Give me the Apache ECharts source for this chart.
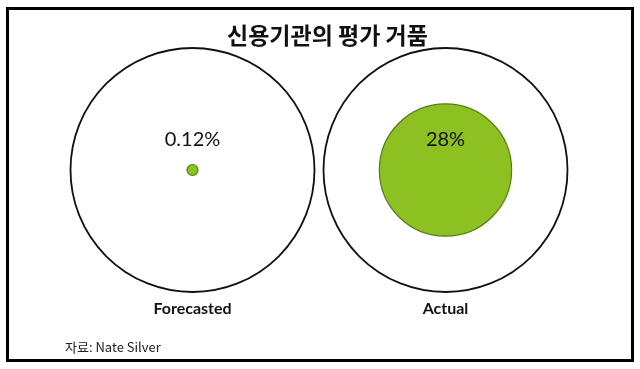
<!DOCTYPE html>
<html>
<head>
<meta charset="utf-8">
<script src="https://cdn.jsdelivr.net/npm/echarts@6/dist/echarts.min.js"></script>
<style>html,body{margin:0;padding:0;background:#fff}#c{width:640px;height:369px}</style>
</head>
<body>
<div id="c"></div>
<script>
// ---- data ----
var categories = ['Forecasted', 'Actual'];
var rates = [0.12, 28];            // percent
var rateLabels = ['0.12%', '28%'];
var wholeValue = [100, 100];       // outer circle = 100%
var titleText = '신용기관의 평가 거품';
var sourceText = '자료: Nate Silver';

var chart = echarts.init(document.getElementById('c'), null, {renderer: 'canvas'});
var OUTER = 244;
function innerSize(v) { return Math.max(11, 250 * Math.sqrt(v / 100)); }

chart.setOption({
  backgroundColor: '#ffffff',
  animation: false,
  title: [
    {text: titleText, left: 222, top: 19,
     textStyle: {fontFamily: 'Noto Sans CJK KR', fontSize: 23, fontWeight: 'bold', color: '#111'}},
    {text: sourceText, left: 60, top: 336,
     textStyle: {fontFamily: 'Noto Sans CJK KR', fontSize: 13, fontWeight: 'normal', color: '#222'}}
  ],
  grid: {left: 66, right: 68, top: 50, bottom: 79},
  xAxis: {
    type: 'category', data: categories, boundaryGap: true,
    axisLine: {show: false}, axisTick: {show: false}, splitLine: {show: false},
    axisLabel: {margin: 11, fontFamily: 'Lato', fontSize: 16, fontWeight: 'bold', color: '#111'}
  },
  yAxis: {type: 'value', min: -1, max: 1, show: false},
  series: [
    {
      type: 'scatter', name: 'whole', z: 1,
      data: wholeValue.map(function (v, i) { return [categories[i], 0, v]; }),
      symbol: 'circle', symbolSize: OUTER,
      itemStyle: {color: '#ffffff', borderColor: '#111', borderWidth: 1.8, opacity: 1},
      emphasis: {disabled: true}, silent: true
    },
    {
      type: 'scatter', name: 'rate', z: 3,
      data: rates.map(function (v, i) { return [categories[i], 0, v]; }),
      symbol: 'circle',
      symbolSize: function (d) { return innerSize(d[2]); },
      itemStyle: {color: '#8DC021', borderColor: '#557f14', borderWidth: 1.2, opacity: 1},
      label: {
        show: true, position: 'inside', offset: [0, -30],
        formatter: function (p) { return rateLabels[p.dataIndex]; },
        fontFamily: 'Lato', fontSize: 20, color: '#111'
      },
      emphasis: {disabled: true}, silent: true
    }
  ],
  graphic: [
    {type: 'rect', shape: {x: 7.5, y: 8.5, width: 625, height: 352},
     style: {fill: null, stroke: '#000', lineWidth: 3}, z: 100}
  ]
});
</script>
</body>
</html>
